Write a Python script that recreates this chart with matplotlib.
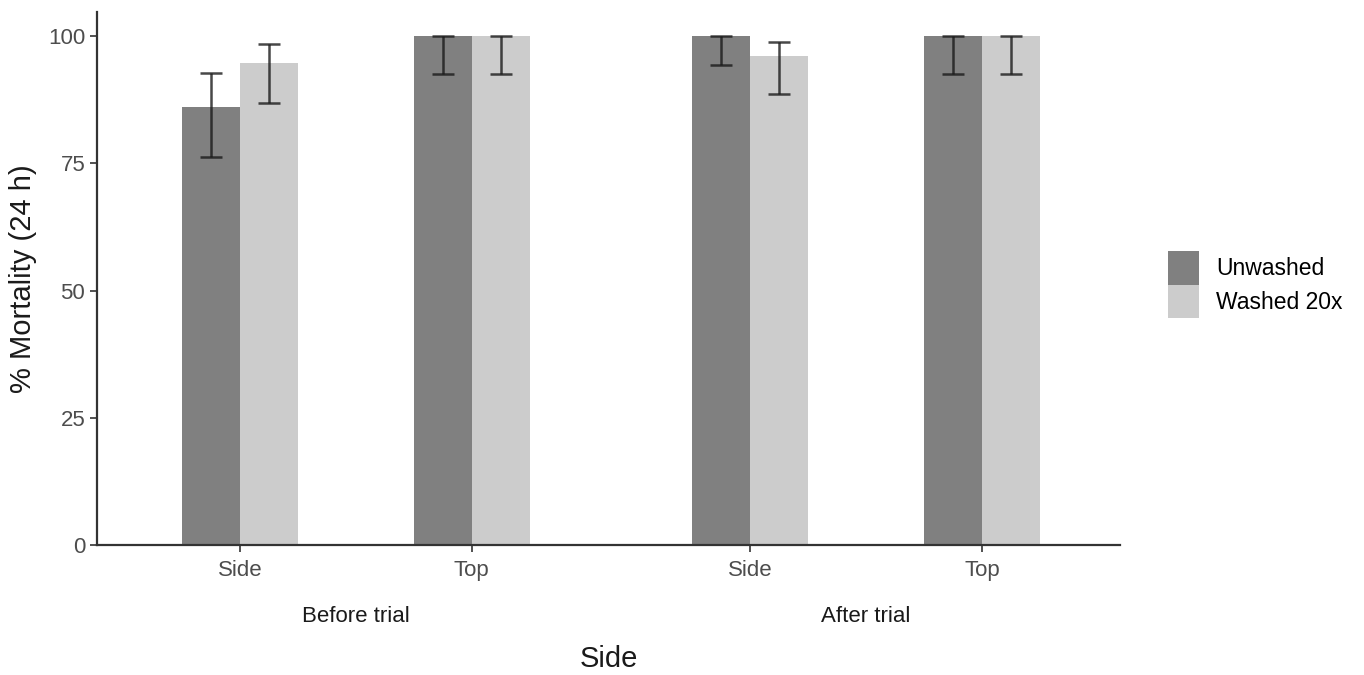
import matplotlib
matplotlib.use("Agg")
import matplotlib.pyplot as plt
import numpy as np

plt.rcParams['font.family'] = ['Liberation Sans', 'DejaVu Sans']

# Mean mortality and error limits per treatment
positions = ['Side', 'Top', 'Side', 'Top']
trials = ['Before trial', 'After trial']
unwashed = [86.2, 100, 100, 100]
unwashed_lo = [76.3, 92.5, 94.3, 92.5]
unwashed_hi = [92.7, 100, 100, 100]
washed = [94.8, 100, 96.1, 100]
washed_lo = [86.9, 92.5, 88.6, 92.5]
washed_hi = [98.4, 100, 98.9, 100]

xpos = np.array([0, 1, 2.2, 3.2])
w = 0.25

fig = plt.figure(figsize=(13.64, 6.75), dpi=100)
ax = fig.add_axes([0.0711, 0.1926, 0.750, 0.789])

ax.bar(xpos - w / 2, unwashed, width=w, color='#808080', label='Unwashed')
ax.bar(xpos + w / 2, washed, width=w, color='#cccccc', label='Washed 20x')

err_kw = dict(fmt='none', ecolor='#1a1a1a', alpha=0.8, elinewidth=1.8,
              capsize=8, capthick=1.8)
ax.errorbar(xpos - w / 2, unwashed,
            yerr=[np.subtract(unwashed, unwashed_lo), np.subtract(unwashed_hi, unwashed)],
            **err_kw)
ax.errorbar(xpos + w / 2, washed,
            yerr=[np.subtract(washed, washed_lo), np.subtract(washed_hi, washed)],
            **err_kw)

ax.set_xlim(-0.616, 3.795)
ax.set_ylim(0, 104.7)
ax.set_yticks([0, 25, 50, 75, 100])
ax.set_xticks(xpos)
ax.set_xticklabels(positions)
ax.tick_params(axis='both', labelsize=16, colors='#333333', labelcolor='#4d4d4d',
               length=5, width=1.2)
ax.tick_params(axis='x', pad=6)
for s in ['top', 'right']:
    ax.spines[s].set_visible(False)
for s in ['left', 'bottom']:
    ax.spines[s].set_color('#333333')
    ax.spines[s].set_linewidth(1.6)

ax.set_ylabel('% Mortality (24 h)', fontsize=21, color='#1a1a1a', labelpad=8)

# Trial group labels under the tick labels
for i, t in enumerate(trials):
    cx = xpos[2 * i:2 * i + 2].mean()
    ax.text(cx, -0.135, t, transform=ax.get_xaxis_transform(),
            ha='center', va='center', fontsize=16, color='#1a1a1a')
ax.text(0.5, -0.215, 'Side', transform=ax.transAxes, ha='center', va='center',
        fontsize=21, color='#1a1a1a')

ax.legend(loc='center left', bbox_to_anchor=(1.027, 0.489), frameon=False,
          fontsize=16.5, handlelength=1.35, handleheight=1.85, labelspacing=0.0,
          handletextpad=0.75)

fig.savefig('out.png', dpi=100)
